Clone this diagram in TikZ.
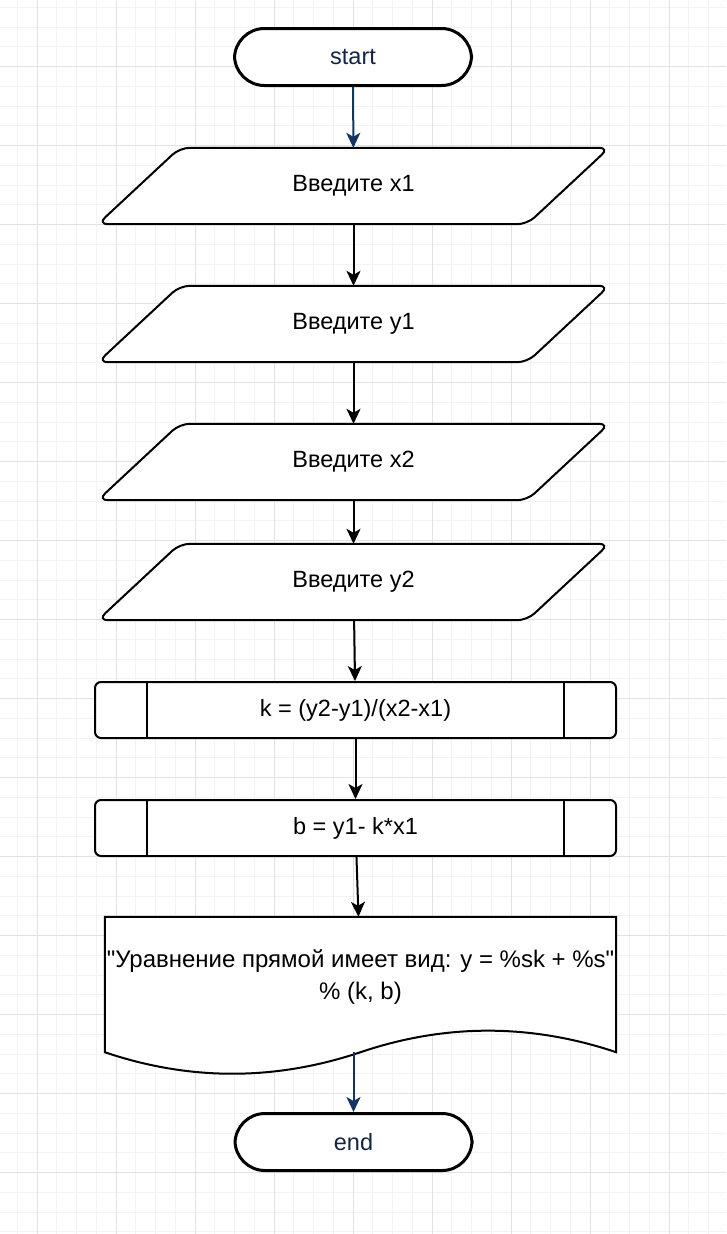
\documentclass[tikz,border=0pt]{standalone}
\usepackage{fontspec}
\newfontfamily\flowfont{Liberation Sans}
\usetikzlibrary{shapes.geometric,arrows.meta,positioning,calc,backgrounds}
\definecolor{navyline}{RGB}{18,52,99}
\definecolor{navytext}{RGB}{20,36,66}
\definecolor{minorgrid}{RGB}{243,243,243}
\definecolor{majorgrid}{RGB}{226,226,226}
\begin{document}
\begin{tikzpicture}[
    x=1pt, y=-1pt,
    font=\flowfont\fontsize{23.5}{32}\selectfont,
    terminal/.style={rectangle, rounded corners=30pt, draw=black, line width=3pt, fill=white, text=navytext, minimum width=237pt, minimum height=57pt},
    inbox/.style={rectangle, minimum width=429pt, minimum height=76pt},
    inline/.style={draw=black, line width=2pt, fill=white, rounded corners=10pt},
    procbox/.style={rectangle, rounded corners=6pt, draw=black, line width=2pt, fill=white, minimum width=521pt, minimum height=56pt},
    docbox/.style={rectangle, minimum width=511pt, minimum height=120pt, align=center, inner sep=0pt, font=\flowfont\fontsize{24}{32}\selectfont},
    arrow/.style={line width=2pt, -{Stealth[length=15pt, width=14pt, inset=4pt]}},
    navyarrow/.style={arrow, navyline}
]
\useasboundingbox (0,0) rectangle (726,1234);

% Nodes
\node (start) [terminal] at (353,57) {start};
\node (in1) [inbox] at (353.5,186) {Введите x1};
\node (in2) [inbox] at (353.5,324) {Введите y1};
\node (in3) [inbox] at (353.5,462) {Введите x2};
\node (in4) [inbox] at (353.5,582) {Введите y2};
\node (calck) [procbox] at (355.5,710) {k = (y2-y1)/(x2-x1)};
\node (calcb) [procbox] at (355.5,828) {b = y1- k*x1};
\node (out) [docbox] at (360.5,977) {"Уравнение прямой имеет вид: y = \%sk + \%s"\\\% (k, b)};
\node (end) [terminal] at (353.5,1142) {end};
\coordinate (outwave) at ([yshift=-15pt]out.south);

% Side bars of the process boxes
\draw [line width=2pt] ([xshift=53pt]calck.north west) -- ([xshift=53pt]calck.south west);
\draw [line width=2pt] ([xshift=-53pt]calck.north east) -- ([xshift=-53pt]calck.south east);
\draw [line width=2pt] ([xshift=53pt]calcb.north west) -- ([xshift=53pt]calcb.south west);
\draw [line width=2pt] ([xshift=-53pt]calcb.north east) -- ([xshift=-53pt]calcb.south east);

% Arrows
\draw [navyarrow] (start) -- (in1);
\draw [arrow] (in1) -- (in2);
\draw [arrow] (in2) -- (in3);
\draw [arrow] (in3) -- (in4);
\draw [arrow] (in4) -- (calck);
\draw [arrow] (calck) -- (calcb);
\draw [arrow] (calcb) -- (out);
\draw [navyarrow] (end |- outwave) -- (end);

\begin{scope}[on background layer]
% Grid
\foreach \gx in {-2.5,17.25,...,730} \draw [minorgrid, line width=1pt] (\gx,0) -- (\gx,1234);
\foreach \gy in {7.25,27,...,1240} \draw [minorgrid, line width=1pt] (0,\gy) -- (726,\gy);
\foreach \gx in {37,116,...,730} \draw [majorgrid, line width=1pt] (\gx,0) -- (\gx,1234);
\foreach \gy in {66.5,145.5,...,1240} \draw [majorgrid, line width=1pt] (0,\gy) -- (726,\gy);
% Input parallelograms
\foreach \n in {in1,in2,in3,in4}
  \draw [inline] ([xshift=41pt]\n.north east) -- ([xshift=-41pt]\n.south east)
    -- ([xshift=-41pt]\n.south west) -- ([xshift=41pt]\n.north west) -- cycle;
% Document outline
\draw [line width=2pt, fill=white] (out.north west) -- (out.north east) -- ($(out.south east)+(0,15)$)
    .. controls ($(out.south east)+(-85.5,-13.7)$) and ($(out.south east)+(-171,-13.7)$) .. (outwave)
    .. controls ($(out.south)+(-85.5,43.7)$) and ($(out.south)+(-171,43.7)$) .. ($(out.south west)+(0,15)$) -- cycle;
\end{scope}

\end{tikzpicture}
\end{document}
